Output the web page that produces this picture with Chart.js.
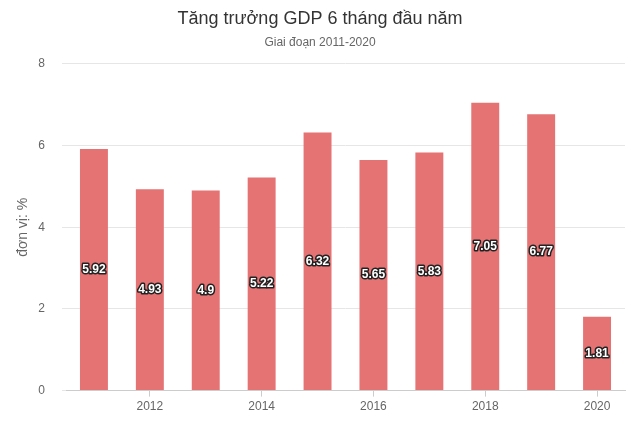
<!DOCTYPE html>
<html>
<head>
<meta charset="utf-8">
<script src="https://cdn.jsdelivr.net/npm/chart.js@4.4.1/dist/chart.umd.min.js"></script>
<style>
    html, body { margin: 0; padding: 0; background: #fff; }
    #wrap { width: 640px; height: 427px; }
</style>
</head>
<body>
<div id="wrap"><canvas id="gdpChart"></canvas></div>
<script>
const years = ['2011', '2012', '2013', '2014', '2015', '2016', '2017', '2018', '2019', '2020'];
const growth = [5.92, 4.93, 4.9, 5.22, 6.32, 5.65, 5.83, 7.05, 6.77, 1.81];
const yTicks = [0, 2, 4, 6, 8];

// value labels in the middle of each bar, white text with dark outline
const barLabels = {
    id: 'barLabels',
    afterDatasetsDraw(chart) {
        const ctx = chart.ctx;
        const meta = chart.getDatasetMeta(0);
        ctx.save();
        ctx.font = 'bold 12px "Liberation Sans", Arial, sans-serif';
        ctx.textAlign = 'center';
        ctx.textBaseline = 'middle';
        ctx.lineJoin = 'round';
        meta.data.forEach(function (bar, i) {
            const y = (bar.y + bar.base) / 2;
            const txt = String(growth[i]);
            ctx.lineWidth = 3;
            ctx.strokeStyle = '#222';
            ctx.strokeText(txt, bar.x, y);
            ctx.fillStyle = '#fff';
            ctx.fillText(txt, bar.x, y);
        });
        ctx.restore();
    }
};

new Chart(document.getElementById('gdpChart').getContext('2d'), {
    type: 'bar',
    data: {
        labels: years,
        datasets: [{
            label: 'Tăng trưởng GDP',
            data: growth,
            backgroundColor: '#e57373',
            borderWidth: 0,
            barPercentage: 0.5,
            categoryPercentage: 1.0
        }]
    },
    options: {
        responsive: true,
        maintainAspectRatio: false,
        animation: false,
        layout: { padding: { left: 0, right: 0, top: 0, bottom: 10 } },
        plugins: {
            legend: { display: false },
            tooltip: { enabled: false },
            title: {
                display: true,
                text: 'Tăng trưởng GDP 6 tháng đầu năm',
                color: '#333',
                font: { family: '"Liberation Sans", Arial, sans-serif', size: 18, weight: 'normal' },
                padding: { top: 8, bottom: 6 }
            },
            subtitle: {
                display: true,
                text: 'Giai đoạn 2011-2020',
                color: '#666',
                font: { family: '"Liberation Sans", Arial, sans-serif', size: 12 },
                padding: { top: 0, bottom: 14 }
            }
        },
        scales: {
            x: {
                offset: true,
                grid: {
                    offset: false,
                    drawOnChartArea: false,
                    tickLength: 6,
                    color: function (c) { return c.index % 2 === 1 ? '#ccc' : 'rgba(0,0,0,0)'; }
                },
                border: { color: '#ccc' },
                ticks: {
                    color: '#666',
                    font: { family: '"Liberation Sans", Arial, sans-serif', size: 12 },
                    maxRotation: 0,
                    autoSkip: false,
                    callback: function (v, i) { return i % 2 === 1 ? years[i] : ''; }
                }
            },
            y: {
                min: yTicks[0],
                max: yTicks[yTicks.length - 1],
                afterBuildTicks: function (axis) { axis.ticks = yTicks.map(function (v) { return { value: v }; }); },
                afterFit: function (axis) { axis.width = 66; },
                grid: { color: '#e6e6e6', tickLength: 4, drawTicks: true },
                border: { display: false },
                ticks: {
                    color: '#666',
                    padding: 17,
                    font: { family: '"Liberation Sans", Arial, sans-serif', size: 12 }
                },
                title: {
                    display: true,
                    text: 'đơn vị: %',
                    color: '#666',
                    font: { family: '"Liberation Sans", Arial, sans-serif', size: 14 },
                    padding: { top: 15, bottom: 0 }
                }
            },
            // empty right margin so the titles stay centred on the canvas
            yRight: {
                position: 'right',
                min: 0,
                max: 8,
                afterFit: function (axis) { axis.width = 15; },
                grid: { display: false },
                border: { display: false },
                ticks: { display: false }
            }
        }
    },
    plugins: [barLabels]
});
</script>
</body>
</html>
